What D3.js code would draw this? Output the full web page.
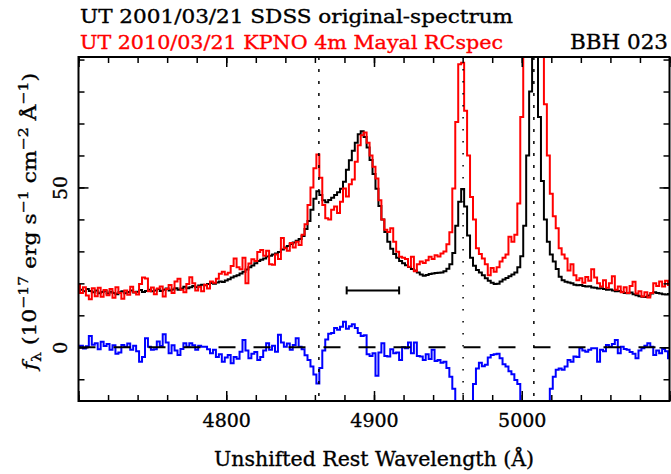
<!DOCTYPE html>
<html>
<head>
<meta charset="utf-8">
<script src="https://cdn.jsdelivr.net/npm/d3@7"></script>
<style>
  body { margin: 0; background: #fff; }
  svg { display: block; }
  text { font-family: "DejaVu Serif", "Liberation Serif", serif; }
</style>
</head>
<body>
<svg id="chart" width="671" height="474"></svg>
<script>
// Spectra sampled on a 2 Å grid, 4700–5100 Å (rest frame).
const wavelength = d3.range(4700, 5101, 2);

// SDSS spectrum, 2001/03/21 (10^-17 erg s^-1 cm^-2 Å^-1)
const fluxSDSS = [
  18.4, 18.0, 17.5, 18.2, 17.6, 17.2, 17.8, 16.9, 17.3, 17.7,
  16.8, 17.4, 17.0, 16.6, 17.2, 17.5, 16.9, 17.3, 17.8, 17.1,
  17.4, 17.9, 17.3, 17.6, 18.0, 17.5, 17.8, 18.2, 17.6, 18.0,
  18.4, 17.8, 18.1, 18.5, 18.0, 18.4, 18.9, 18.5, 18.8, 19.2,
  18.8, 19.3, 19.6, 19.4, 19.8, 20.1, 19.9, 20.3, 20.6, 20.4,
  20.9, 21.3, 21.8, 22.2, 22.5, 23.1, 23.6, 24.3, 25.0, 25.6,
  26.3, 27.0, 27.4, 27.8, 28.4, 28.6, 29.0, 29.3, 29.8, 30.6,
  31.2, 31.7, 32.3, 32.8, 33.3, 33.9, 34.8, 37.0, 39.5, 43.0,
  46.5, 48.8, 47.6, 46.0, 45.4, 46.1, 46.8, 47.6, 48.5, 49.6,
  51.8, 55.5, 58.5, 61.5, 64.0, 66.6, 67.6, 65.8, 62.5, 58.6,
  54.2, 49.6, 44.2, 40.0, 36.1, 33.0, 30.8, 29.2, 28.0, 27.0,
  26.3, 25.7, 25.1, 24.5, 24.0, 23.4, 22.8, 22.4, 22.6, 22.9,
  23.1, 23.2, 23.3, 23.4, 23.8, 24.6, 26.0, 29.5, 38.0, 45.5,
  49.5, 44.0, 35.0, 28.0, 25.5, 24.2, 23.4, 22.5, 21.6, 20.8,
  20.2, 19.8, 19.9, 20.6, 21.2, 21.7, 22.2, 22.8, 23.4, 25.0,
  28.5, 38.0, 60.0, 80.0, 130.0, 100.0, 72.0, 52.0, 40.0, 33.0,
  29.0, 26.8, 24.5, 22.1, 21.0, 20.5, 20.3, 20.0, 19.6, 19.4,
  19.5, 19.2, 19.0, 19.1, 18.7, 18.6, 18.4, 18.5, 18.2, 18.0,
  18.1, 17.8, 17.5, 17.6, 17.3, 17.0, 16.9, 17.1, 16.6, 16.3,
  16.0, 15.8, 15.7, 16.2, 16.8, 17.2, 17.0, 16.8, 16.6, 16.5,
  16.7
];

// KPNO 4m RCspec spectrum, 2010/03/21
const fluxKPNO = [
  19.5, 17.0, 18.8, 16.2, 15.0, 18.5, 16.0, 18.6, 15.8, 17.9,
  16.3, 18.2, 15.5, 18.8, 17.0, 15.2, 17.8, 16.4, 18.9, 17.2,
  16.5, 19.8, 21.8, 21.5, 17.5, 18.7, 16.6, 18.4, 19.0, 15.9,
  18.2, 19.5, 17.0, 20.6, 21.4, 18.0, 17.2, 19.8, 21.9, 20.0,
  17.8, 18.9, 17.5, 19.6, 18.4, 20.6, 20.2, 21.4, 23.0, 23.6,
  22.8, 23.3, 25.4, 27.8, 25.0, 24.4, 28.0, 20.0, 26.2, 27.5,
  27.0, 29.8, 30.4, 28.6, 30.2, 26.0, 25.8, 29.0, 27.6, 34.2,
  31.0, 30.2, 32.6, 31.2, 33.0, 32.0, 35.2, 38.5, 44.5, 50.0,
  56.0, 60.3, 53.0, 44.5, 40.4, 40.0, 43.0, 44.0, 42.0, 45.5,
  49.7, 47.2, 51.0, 52.5, 58.0, 63.2, 66.3, 67.2, 64.0, 60.0,
  56.5, 52.8, 46.0, 40.0, 36.8, 36.1, 37.2, 33.0, 29.9, 28.3,
  28.0, 27.6, 25.2, 28.3, 23.8, 26.0, 26.8, 26.4, 27.2, 28.3,
  27.6, 28.8, 28.4, 29.3, 30.0, 32.2, 36.0, 49.7, 70.5, 88.5,
  89.0, 74.0, 60.0, 47.0, 40.0, 31.0, 29.2, 27.8, 26.0, 22.5,
  24.8, 23.6, 25.0, 26.8, 28.0, 29.0, 34.6, 33.0, 35.2, 45.0,
  72.0, 100.0, 150.0, 180.0, 200.0, 190.0, 150.0, 110.0, 76.0, 60.0,
  48.0, 41.0, 37.2, 31.0, 29.0, 27.8, 24.0, 26.0, 22.5, 21.0,
  21.6, 20.2, 22.0, 20.8, 24.4, 21.8, 20.0, 19.0, 21.0, 18.6,
  20.0, 22.2, 18.0, 19.0, 17.2, 18.8, 17.0, 19.2, 20.5, 16.8,
  17.5, 15.9, 17.2, 15.6, 17.0, 20.0, 19.2, 20.6, 19.0, 20.8,
  19.5
];

// Difference spectrum (SDSS minus KPNO)
const fluxDiff = [
  0.0, 0.5, -0.4, 0.3, 3.5, 0.8, 1.3, -0.6, 1.7, 0.4,
  1.0, -0.8, 0.6, -2.0, -1.6, 0.7, 0.2, 1.2, -0.8, 0.5,
  -1.2, -4.5, -3.0, 2.8, 0.2, -0.8, -0.6, 1.8, 0.4, 4.1,
  1.5, -1.9, 0.6, -1.0, -2.4, -0.5, 1.3, 0.2, 1.3, 0.6,
  -0.8, 0.5, 0.2, 0.2, -0.6, -1.9, -0.8, -3.0, -2.2, -4.5,
  -3.2, -2.4, -5.0, -3.0, -3.6, -1.4, 2.3, -1.0, -3.4, -2.0,
  -1.5, -4.0, -3.0, -1.0, 1.3, -0.8, 0.5, -1.4, 3.9, 1.5,
  0.2, 1.2, -0.8, 0.7, 2.8, 0.2, -0.6, -2.5, -4.0, -6.0,
  -8.5, -11.3, -6.5, -1.0, 2.4, 4.2, 4.5, 6.0, 5.5, 6.4,
  8.0, 5.8, 6.6, 7.2, 6.0, 4.5, 3.5, 3.8, -2.2, -2.7,
  -1.9, -8.9, -1.6, 1.25, -2.7, -2.9, -0.6, -1.9, -1.6, -4.0,
  0.0, -0.3, 1.5, -1.9, 1.5, -2.7, -2.9, -4.0, -2.2, -3.7,
  -0.8, -4.3, -4.0, -4.8, -4.5, -6.5, -9.2, -13.0, -25.0, -43.0,
  -39.0, -28.0, -22.0, -20.0, -11.5, -6.6, -4.8, -5.9, -5.5, -3.2,
  -2.4, -2.2, -2.0, -3.4, -5.3, -6.0, -7.5, -8.4, -10.2, -11.5,
  -18.0, -60.0, -90.0, -95.0, -80.0, -90.0, -80.0, -57.0, -35.0, -22.0,
  -13.0, -9.2, -7.0, -6.6, -7.0, -6.0, -4.0, -4.5, -2.9, -3.0,
  -0.3, -1.0, -1.4, -0.8, -0.3, -0.3, -4.5, -0.8, -1.2, 0.7,
  0.2, 1.0, 2.3, -1.9, 0.2, -0.5, -0.8, -1.5, -2.0, -3.4,
  -1.0, -0.3, 0.5, 1.25, 0.2, -2.4, -1.0, -1.9, -0.5, -1.2,
  -3.4
];

// Line centres: Hβ, [O III] 4959, [O III] 5007
const lineCenters = [4862.7, 4960.3, 5008.2];
const lineStyles = ["3,9", "1.5,10.5", "3,9"];

// Velocity-width bar
const barRange = [4881.5, 4917];
const barLevel = 17.8;

// Axis ticks
const xMajorTicks = [4700, 4800, 4900, 5000, 5100];
const xLabelTicks = [4800, 4900, 5000];
const xMinorTicks = d3.range(4700, 5101, 20);
const yMajorTicks = [0, 50];
const yMinorTicks = [-10, 0, 10, 20, 30, 40, 50, 60, 70, 80, 90];

const titleLines = [
  { text: "UT 2001/03/21 SDSS original-spectrum", color: "#000", x: 80, y: 23, len: 433 },
  { text: "UT 2010/03/21 KPNO 4m Mayal RCspec", color: "#ff0000", x: 80, y: 49, len: 423 }
];
const objectName = "BBH 023";
const xTitle = "Unshifted Rest Wavelength (Å)";

// ---------------------------------------------------------------
const svg = d3.select("#chart");
const plot = { left: 78.5, right: 669.5, top: 57, bottom: 401 };
const FS = 19;
const TEXT_STROKE = 0.35;

const x = d3.scaleLinear().domain([4700, 5100]).range([plot.left, plot.right]);
const y = d3.scaleLinear().domain([-16.8, 90.8]).range([plot.bottom, plot.top]);

svg.append("rect").attr("width", 671).attr("height", 474).attr("fill", "#fff");

svg.append("clipPath").attr("id", "plot-clip")
  .append("rect")
  .attr("x", plot.left).attr("y", plot.top)
  .attr("width", plot.right - plot.left).attr("height", plot.bottom - plot.top);

const body = svg.append("g").attr("clip-path", "url(#plot-clip)");

// Spectra as histogram steps
const stepLine = vals => d3.line()
  .x((d, i) => x(wavelength[i]))
  .y(d => y(d))
  .curve(d3.curveStep)(vals);

body.append("path").attr("d", stepLine(fluxSDSS))
  .attr("fill", "none").attr("stroke", "#000").attr("stroke-width", 2);
body.append("path").attr("d", stepLine(fluxKPNO))
  .attr("fill", "none").attr("stroke", "#ff0000").attr("stroke-width", 2);
body.append("path").attr("d", stepLine(fluxDiff))
  .attr("fill", "none").attr("stroke", "#0000ff").attr("stroke-width", 2);

// Zero level of the difference spectrum
body.append("line")
  .attr("x1", plot.left).attr("x2", plot.right)
  .attr("y1", y(0)).attr("y2", y(0))
  .attr("stroke", "#000").attr("stroke-width", 2)
  .attr("stroke-dasharray", "17,18");

// Emission-line markers
body.selectAll("line.center").data(lineCenters).join("line")
  .attr("class", "center")
  .attr("x1", d => x(d)).attr("x2", d => x(d))
  .attr("y1", plot.top).attr("y2", plot.bottom)
  .attr("stroke", "#000").attr("stroke-width", 1.5)
  .attr("stroke-dasharray", (d, i) => lineStyles[i]);

// Width bar with end caps
const bar = body.append("g").attr("stroke", "#000").attr("stroke-width", 2);
bar.append("line")
  .attr("x1", x(barRange[0])).attr("x2", x(barRange[1]))
  .attr("y1", y(barLevel)).attr("y2", y(barLevel));
barRange.forEach(w => {
  bar.append("line")
    .attr("x1", x(w)).attr("x2", x(w))
    .attr("y1", y(barLevel) - 4).attr("y2", y(barLevel) + 4);
});

// Axes: ticks point inward on all four sides
function styleAxis(g) {
  g.select(".domain").remove();
  g.selectAll(".tick line").attr("stroke", "#000").attr("stroke-width", 1.5);
}
const noLabel = () => "";

svg.append("g").attr("transform", `translate(0,${plot.bottom})`)
  .call(d3.axisBottom(x).tickValues(xMinorTicks).tickSize(-6).tickFormat(noLabel)).call(styleAxis);
svg.append("g").attr("transform", `translate(0,${plot.bottom})`)
  .call(d3.axisBottom(x).tickValues(xMajorTicks).tickSize(-10).tickFormat(noLabel)).call(styleAxis);
svg.append("g").attr("transform", `translate(0,${plot.top})`)
  .call(d3.axisTop(x).tickValues(xMinorTicks).tickSize(-6).tickFormat(noLabel)).call(styleAxis);
svg.append("g").attr("transform", `translate(0,${plot.top})`)
  .call(d3.axisTop(x).tickValues(xMajorTicks).tickSize(-10).tickFormat(noLabel)).call(styleAxis);

svg.append("g").attr("transform", `translate(${plot.left},0)`)
  .call(d3.axisLeft(y).tickValues(yMinorTicks).tickSize(-6).tickFormat(noLabel)).call(styleAxis);
svg.append("g").attr("transform", `translate(${plot.left},0)`)
  .call(d3.axisLeft(y).tickValues(yMajorTicks).tickSize(-10).tickFormat(noLabel)).call(styleAxis);
svg.append("g").attr("transform", `translate(${plot.right},0)`)
  .call(d3.axisRight(y).tickValues(yMinorTicks).tickSize(-6).tickFormat(noLabel)).call(styleAxis);
svg.append("g").attr("transform", `translate(${plot.right},0)`)
  .call(d3.axisRight(y).tickValues(yMajorTicks).tickSize(-10).tickFormat(noLabel)).call(styleAxis);

// Tick labels
const xLab = svg.append("g").attr("transform", `translate(0,${plot.bottom})`)
  .call(d3.axisBottom(x).tickValues(xLabelTicks).tickSize(0).tickFormat(d3.format("d")));
xLab.select(".domain").remove();
xLab.selectAll(".tick text")
  .attr("y", 26).attr("dy", null)
  .attr("fill", "#000").attr("stroke", "#000").attr("stroke-width", TEXT_STROKE)
  .attr("font-size", FS).attr("font-family", "DejaVu Serif");

const yLab = svg.append("g").attr("transform", `translate(${plot.left},0)`)
  .call(d3.axisLeft(y).tickValues(yMajorTicks).tickSize(0).tickFormat(d3.format("d")));
yLab.select(".domain").remove();
yLab.selectAll(".tick text")
  .attr("x", null).attr("dy", null)
  .attr("text-anchor", "middle")
  .attr("transform", "translate(-12,0) rotate(-90)")
  .attr("fill", "#000").attr("stroke", "#000").attr("stroke-width", TEXT_STROKE)
  .attr("font-size", FS).attr("font-family", "DejaVu Serif");

// Frame
svg.append("rect")
  .attr("x", plot.left).attr("y", plot.top)
  .attr("width", plot.right - plot.left).attr("height", plot.bottom - plot.top)
  .attr("fill", "none").attr("stroke", "#000").attr("stroke-width", 2);

// Titles
svg.selectAll("text.title").data(titleLines).join("text")
  .attr("class", "title")
  .attr("x", d => d.x).attr("y", d => d.y)
  .attr("fill", d => d.color).attr("stroke", d => d.color).attr("stroke-width", TEXT_STROKE)
  .attr("font-size", FS)
  .attr("textLength", d => d.len).attr("lengthAdjust", "spacingAndGlyphs")
  .text(d => d.text);

svg.append("text")
  .attr("x", 570).attr("y", 49)
  .attr("font-size", 20).attr("fill", "#000")
  .attr("stroke", "#000").attr("stroke-width", TEXT_STROKE)
  .attr("textLength", 98).attr("lengthAdjust", "spacingAndGlyphs")
  .text(objectName);

svg.append("text")
  .attr("x", x(4900) - 160).attr("y", 466)
  .attr("font-size", 20).attr("fill", "#000")
  .attr("stroke", "#000").attr("stroke-width", TEXT_STROKE)
  .attr("textLength", 320).attr("lengthAdjust", "spacingAndGlyphs")
  .text(xTitle);

// Y-axis title with sub/superscripts
const fs = FS, sup = -0.42 * fs, sub = 0.28 * fs;
const yt = svg.append("text")
  .attr("transform", "translate(36,370) rotate(-90)")
  .attr("font-size", fs).attr("fill", "#000")
  .attr("stroke", "#000").attr("stroke-width", TEXT_STROKE)
  .attr("textLength", 297).attr("lengthAdjust", "spacingAndGlyphs");
const parts = [
  { t: "f", style: "italic" },
  { t: "λ", small: true, dy: sub },
  { t: " (10", dy: -sub },
  { t: "−17", small: true, dy: sup },
  { t: " erg s", dy: -sup },
  { t: "−1", small: true, dy: sup },
  { t: " cm", dy: -sup },
  { t: "−2", small: true, dy: sup },
  { t: " Å", dy: -sup },
  { t: "−1", small: true, dy: sup },
  { t: ")", dy: -sup }
];
parts.forEach(p => {
  const ts = yt.append("tspan").text(p.t);
  if (p.style) ts.attr("font-style", p.style);
  if (p.small) ts.attr("font-size", fs * 0.72);
  if (p.dy) ts.attr("dy", p.dy);
});
</script>
</body>
</html>
